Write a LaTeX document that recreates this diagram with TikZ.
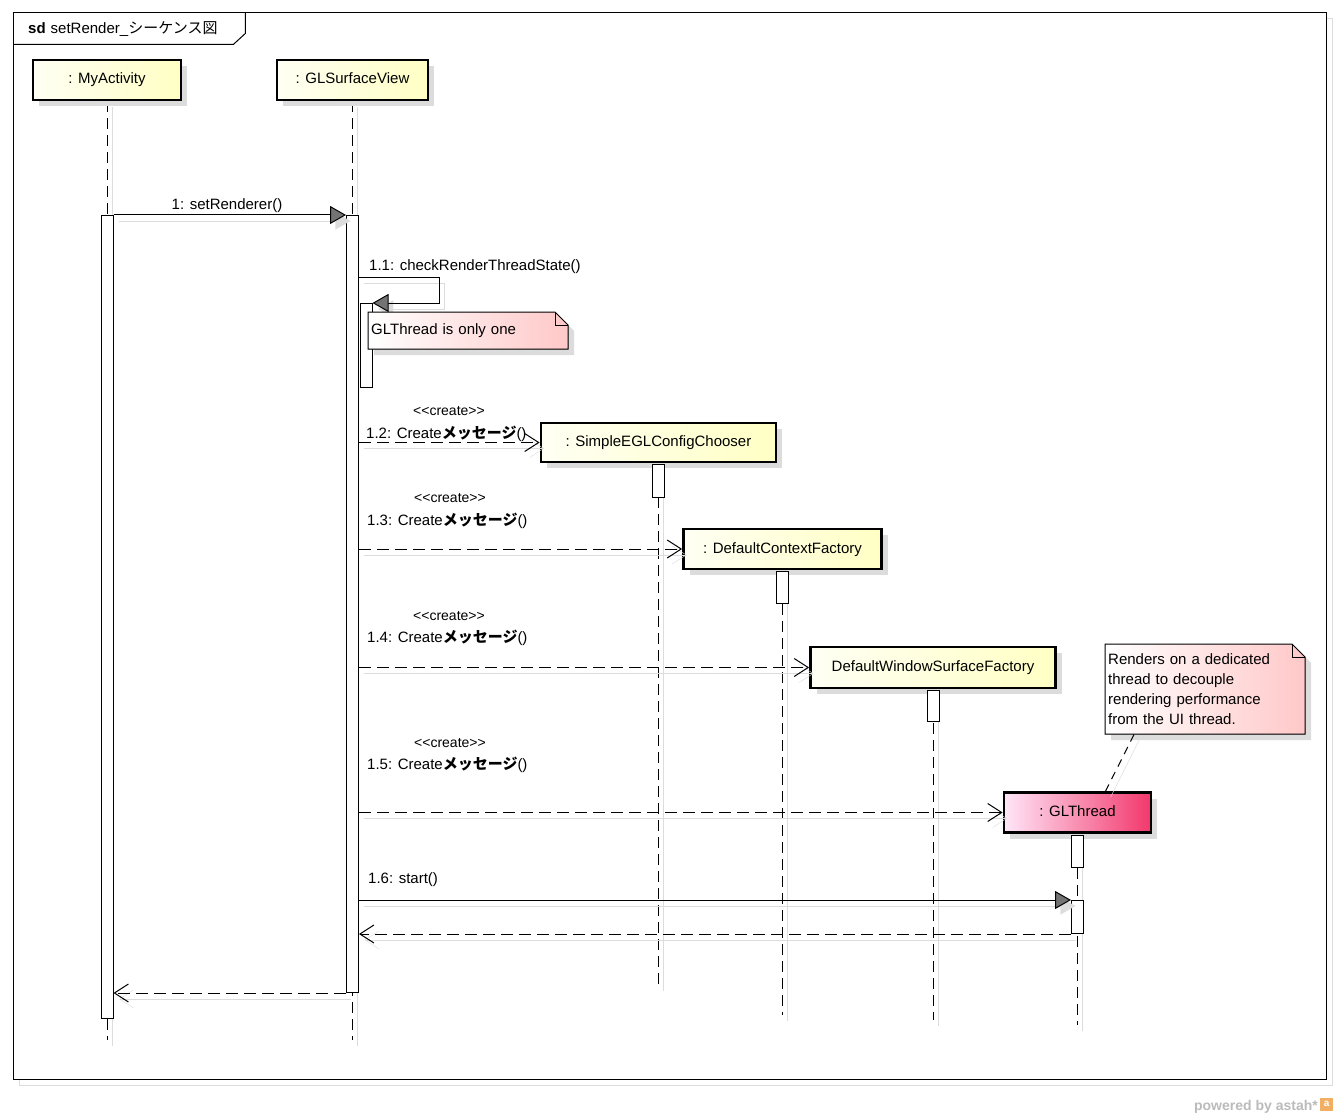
\documentclass[tikz,border=0pt]{standalone}
\usepackage{fontspec}
\setmainfont{Liberation Sans}
\newfontfamily\cjk{Noto Sans CJK JP}
\usetikzlibrary{arrows.meta,positioning,calc,backgrounds,shadows}
\definecolor{sqhead}{HTML}{FFFFC4}
\definecolor{sqheadlt}{HTML}{FFFFF4}
\definecolor{sqthread}{HTML}{F2386C}
\definecolor{sqthreadlt}{HTML}{FFE6F8}
\definecolor{sqnote}{HTML}{FFC8C8}
\definecolor{sqshadow}{HTML}{DCDCDC}
\definecolor{sqbrand}{HTML}{BBBBBB}
\definecolor{sqlogo}{HTML}{F2AE62}
\tikzset{
  shadowed/.style={preaction={draw=sqshadow, solid, transform canvas={shift={(5pt,-6pt)}}}},
  headshadow/.style={drop shadow={shadow xshift=6pt, shadow yshift=-6pt, fill=sqshadow, opacity=1}},
  lifehead/.style={draw=black, line width=2.8pt, left color=sqheadlt, right color=sqhead,
    minimum height=40pt, text height=11pt, text depth=3pt, inner sep=2pt, headshadow},
  threadhead/.style={lifehead, left color=sqthreadlt, right color=sqthread},
  activation/.style={draw=black, line width=1pt, fill=white, minimum width=12pt,
    inner sep=0pt, anchor=north},
  lifeline/.style={draw=black, line width=1pt, dash pattern=on 11pt off 6pt, shadowed},
  syncmsg/.style={-{Triangle[length=16pt,width=18pt,fill=black!55]}, line width=1pt,
    preaction={draw=sqshadow, -{Triangle[length=16pt,width=18pt,fill=sqshadow]},
      transform canvas={shift={(5pt,-6pt)}}}},
  createmsg/.style={-{Straight Barb[length=14pt,width=18pt]}, line width=1pt,
    dash pattern=on 12pt off 6pt, shadowed},
  notebody/.style={draw=black, line width=1pt, left color=white, right color=sqnote, headshadow},
  notelink/.style={draw=black, line width=1pt, dash pattern=on 8pt off 6pt, shadowed},
  notetext/.style={anchor=north west, align=left, inner xsep=3pt, inner ysep=0pt},
  msglabel/.style={inner sep=0pt, anchor=base west},
  stereo/.style={inner sep=0pt, anchor=base, font=\fontsize{14}{16}\selectfont}
}
\begin{document}
\begin{tikzpicture}[x=1pt, y=-1pt, font=\fontsize{15}{20}\selectfont]
\useasboundingbox (0,0) rectangle (1338,1118);

% lifeline heads
\node[lifehead, minimum width=148pt] (myact) at (107,80) {: MyActivity};
\node[lifehead, minimum width=151pt] (glview) at (352.5,80) {: GLSurfaceView};
\node[lifehead, minimum width=235pt, minimum height=39pt] (chooser) at (658.5,442.5) {: SimpleEGLConfigChooser};
\node[lifehead, minimum width=198pt] (ctxfac) at (782.5,549) {: DefaultContextFactory};
\node[lifehead, minimum width=245pt, minimum height=41pt] (winfac) at (933,667.5) {DefaultWindowSurfaceFactory};
\node[threadhead, minimum width=147pt] (glthread) at (1077.5,812.5) {: GLThread};

% activations
\node[activation, minimum height=803pt] (actA) at (myact.south |- 0,215) {};
\node[activation, minimum height=777pt] (actB) at (glview.south |- 0,215) {};
\node[activation, minimum height=84pt] (actB2) at (366,303) {};
\node[activation, minimum height=33pt, below=1pt of chooser] (actC) {};
\node[activation, minimum height=32pt, below=1pt of ctxfac] (actD) {};
\node[activation, minimum height=31pt, below=1pt of winfac] (actE) {};
\node[activation, minimum height=32pt, below=1pt of glthread] (actF) {};
\node[activation, minimum height=33pt] (actF2) at (glthread.south |- 0,900) {};

\coordinate (endA) at (myact.south |- 0,1040);
\coordinate (endB) at (glview.south |- 0,1040);
\coordinate (endC) at (chooser.south |- 0,985);
\coordinate (endD) at (ctxfac.south |- 0,1015);
\coordinate (endE) at (winfac.south |- 0,1020);
\coordinate (endF) at (glthread.south |- 0,1025);

\begin{scope}[on background layer]
  \fill[white] (0,0) rectangle (1338,1118);
  \draw[sqshadow, line width=1pt] (19,19) rectangle (1332,1085);
  \draw[line width=1pt, fill=white] (13,13) rectangle (1326,1079);
  \draw[lifeline] (myact.south) -- (endA);
  \draw[lifeline] (glview.south) -- (endB);
  \draw[lifeline] (chooser.south) -- (endC);
  \draw[lifeline] (ctxfac.south) -- (endD);
  \draw[lifeline] (winfac.south) -- (endE);
  \draw[lifeline] (glthread.south) -- (endF);
\end{scope}

% frame title
\node[anchor=north west, minimum height=31pt, text width=202pt, inner xsep=15pt, inner ysep=0pt] (sdtitle) at (13,13)
  {\textbf{sd} setRender\_{\cjk シーケンス図}};
\draw[line width=1pt] (sdtitle.north east) -- ([yshift=11pt]sdtitle.south east)
  -- ([xshift=-12pt]sdtitle.south east) -- (sdtitle.south west);

% messages
\draw[syncmsg] (actA.north east) -- (actB.north west);
\node[msglabel, anchor=base] (lbl1) at (227,209) {1: setRenderer()};

\coordinate (selfcall) at (actB.east |- 0,277);
\draw[syncmsg] (selfcall) -- ++(80,0) |- (actB2.north east);
\node[msglabel] (lbl11) at (369,270) {1.1: checkRenderThreadState()};

\draw[createmsg] (actB.east |- chooser.west) -- (chooser.west);
\node[stereo] (st12) at (449,415) {{<}{<}create{>}{>}};
\node[msglabel] (lbl12) at (366,438) {1.2: Create{\cjk\bfseries メッセージ}()};

\draw[createmsg] (actB.east |- ctxfac.west) -- (ctxfac.west);
\node[stereo] (st13) at (450,502) {{<}{<}create{>}{>}};
\node[msglabel] (lbl13) at (367,525) {1.3: Create{\cjk\bfseries メッセージ}()};

\draw[createmsg] (actB.east |- winfac.west) -- (winfac.west);
\node[stereo] (st14) at (449,620) {{<}{<}create{>}{>}};
\node[msglabel] (lbl14) at (367,642) {1.4: Create{\cjk\bfseries メッセージ}()};

\draw[createmsg] (actB.east |- glthread.west) -- (glthread.west);
\node[stereo] (st15) at (450,747) {{<}{<}create{>}{>}};
\node[msglabel] (lbl15) at (367,769) {1.5: Create{\cjk\bfseries メッセージ}()};

\draw[syncmsg] (actB.east |- actF2.north west) -- (actF2.north west);
\node[msglabel] (lbl16) at (368,883) {1.6: start()};

\draw[createmsg] (actF2.south west) -- (actB.east |- actF2.south west);
\draw[createmsg] (actB.south west) -- (actA.east |- actB.south west);

% notes
\coordinate (n1) at (368,312);
\filldraw[notebody] (n1) -- ++(187,0) -- ++(13,13) -- ++(0,24) -- ++(-200,0) -- cycle;
\draw[line width=1pt] (n1) ++(187,0) -- ++(0,13) -- ++(13,0);
\node[notetext, text width=194pt, minimum height=37pt] (note1) at (n1) {GLThread is only one};

\coordinate (n2) at (1105,644);
\filldraw[notebody] (n2) -- ++(187,0) -- ++(13,13) -- ++(0,77) -- ++(-200,0) -- cycle;
\draw[line width=1pt] (n2) ++(187,0) -- ++(0,13) -- ++(13,0);
\node[notetext, text width=194pt, minimum height=90pt] (note2) at (n2)
  {Renders on a dedicated\\thread to decouple\\rendering performance\\from the UI thread.};
\draw[notelink] ([xshift=29pt]note2.south west) -- ([xshift=103pt]glthread.north west);

% footer
\node[anchor=base east, text=sqbrand, inner sep=0pt, font=\bfseries\fontsize{14}{15}\selectfont] (brand) at (1318,1110) {powered by astah*};
\node[fill=sqlogo, text=white, minimum size=13pt, inner sep=0pt, anchor=south west,
  font=\bfseries\fontsize{10}{10}\selectfont] (logo) at (1320,1111) {a};
\end{tikzpicture}
\end{document}
